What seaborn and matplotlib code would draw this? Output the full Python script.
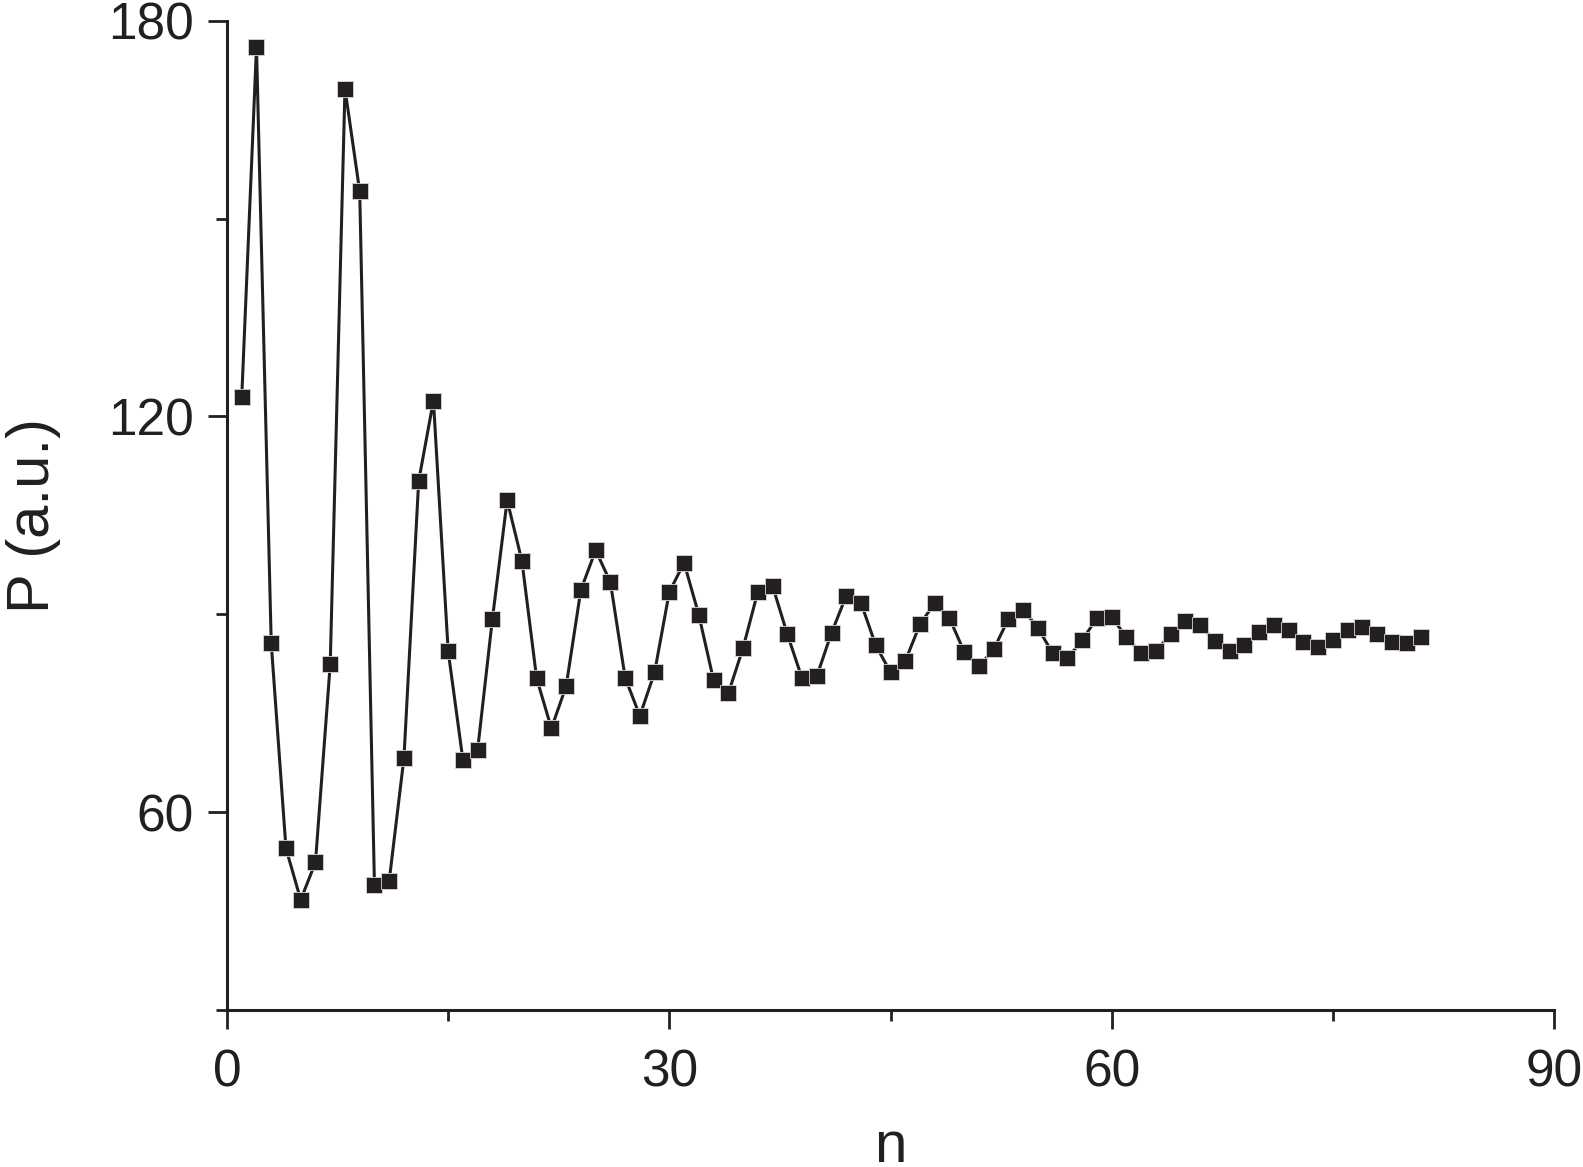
import numpy as np
import pandas as pd
import matplotlib
matplotlib.use("Agg")
import matplotlib.pyplot as plt
import seaborn as sns
from matplotlib.ticker import MultipleLocator

n_values = list(range(1, 82))
p_values = [122.9, 176.0, 85.6, 54.5, 46.7, 52.4, 82.4, 169.7, 154.1, 48.9,
            49.6, 68.2, 110.2, 122.4, 84.4, 67.9, 69.5, 89.3, 107.3, 98.1,
            80.3, 72.7, 79.1, 93.7, 99.7, 94.9, 80.4, 74.6, 81.2, 93.4,
            97.8, 89.9, 80.0, 78.0, 84.9, 93.4, 94.3, 87.0, 80.3, 80.6,
            87.2, 92.8, 91.7, 85.3, 81.2, 82.9, 88.5, 91.7, 89.4, 84.3,
            82.1, 84.7, 89.3, 90.7, 87.9, 84.1, 83.3, 86.1, 89.4, 89.6,
            86.5, 84.1, 84.4, 87.0, 89.0, 88.4, 85.9, 84.4, 85.3, 87.3,
            88.4, 87.6, 85.8, 85.0, 86.1, 87.6, 88.0, 87.0, 85.8, 85.6,
            86.5]

df = pd.DataFrame({"n": n_values, "P": p_values})

sns.set_style("ticks")
plt.rcParams["font.family"] = ["Liberation Sans", "DejaVu Sans"]

ink = "#231f20"

fig = plt.figure(figsize=(15.83, 11.67), dpi=100)
ax = fig.add_axes([0.1434, 0.1345, 0.8383, 0.8478])

sns.lineplot(data=df, x="n", y="P", ax=ax, color=ink, linewidth=2.2,
             marker="s", markersize=11, markeredgecolor="#d8d8d8",
             markeredgewidth=0.6, markerfacecolor=ink)

ax.set_xlim(0, 90)
ax.set_ylim(30, 180)
ax.xaxis.set_major_locator(MultipleLocator(30))
ax.xaxis.set_minor_locator(MultipleLocator(15))
ax.yaxis.set_major_locator(MultipleLocator(60))
ax.yaxis.set_minor_locator(MultipleLocator(30))

for side in ["top", "right"]:
    ax.spines[side].set_visible(False)
for side in ["left", "bottom"]:
    ax.spines[side].set_linewidth(2.2)
    ax.spines[side].set_color(ink)

ax.tick_params(which="major", length=14, width=2.0, color=ink,
               labelsize=37, labelcolor=ink, direction="out")
ax.tick_params(which="minor", length=8, width=2.0, color=ink, direction="out")
ax.tick_params(axis="x", which="major", pad=14)
ax.tick_params(axis="y", which="major", pad=10)

ax.set_xlabel("n", fontsize=42, color=ink, labelpad=16)
ax.set_ylabel("P (a.u.)", fontsize=43, color=ink, labelpad=34)

plt.savefig("out.png", dpi=100)
